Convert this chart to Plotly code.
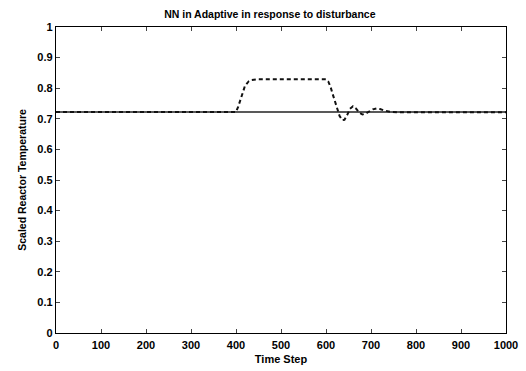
import plotly.graph_objects as go

# Setpoint (solid)
set_t = [0, 1000]
set_y = [0.722, 0.722]

# NN adaptive response (dashed)
resp_t = [0, 400, 405, 410, 415, 420, 428, 435, 445, 600, 605, 610, 615, 620, 625, 630, 636, 641, 647, 653, 660, 667, 674, 681, 688, 696, 704, 712, 720, 730, 742, 760, 1000]
resp_y = [0.722, 0.722, 0.74, 0.765, 0.79, 0.808, 0.822, 0.827, 0.829, 0.829, 0.822, 0.805, 0.78, 0.755, 0.73, 0.71, 0.696, 0.697, 0.712, 0.732, 0.741, 0.733, 0.72, 0.714, 0.717, 0.725, 0.731, 0.734, 0.732, 0.727, 0.723, 0.721, 0.721]

x_ticks = [0, 100, 200, 300, 400, 500, 600, 700, 800, 900, 1000]
y_ticks = [0, 0.1, 0.2, 0.3, 0.4, 0.5, 0.6, 0.7, 0.8, 0.9, 1]
y_ticktext = ["0", "0.1", "0.2", "0.3", "0.4", "0.5", "0.6", "0.7", "0.8", "0.9", "1"]

fig = go.Figure()
fig.add_trace(go.Scatter(x=set_t, y=set_y, mode="lines",
                         line=dict(color="#222222", width=1.4), showlegend=False))
fig.add_trace(go.Scatter(x=resp_t, y=resp_y, mode="lines",
                         line=dict(color="#111111", width=2, dash="4px,3px"), showlegend=False))

fam = "Liberation Sans, Arial, sans-serif"
fig.update_layout(
    width=526, height=371,
    margin=dict(l=56, r=20, t=27, b=38),
    paper_bgcolor="white", plot_bgcolor="white",
    font=dict(family=fam, size=11, color="black", weight="bold"),
    title=dict(text="NN in Adaptive in response to disturbance", x=0.513, xanchor="center",
               y=0.962, yanchor="middle",
               font=dict(size=10.5, color="black", weight="bold")),
)
fig.update_xaxes(range=[0, 1000], tickvals=x_ticks, ticks="inside", ticklen=4,
                 showgrid=False, zeroline=False, showline=True, linecolor="black",
                 linewidth=1.4, mirror="ticks", ticklabelstandoff=2, automargin=False,
                 tickfont=dict(size=11, color="black", weight="bold"),
                 title=dict(text="Time Step", standoff=4,
                            font=dict(size=11, weight="bold")))
fig.update_yaxes(range=[0, 1], tickvals=y_ticks, ticktext=y_ticktext, ticks="inside", ticklen=4,
                 showgrid=False, zeroline=False, showline=True, linecolor="black",
                 linewidth=1.4, mirror="ticks", automargin=False,
                 tickfont=dict(size=11, color="black", weight="bold"),
                 title=dict(text="Scaled Reactor Temperature", standoff=8,
                            font=dict(size=10.5, weight="bold")))

fig.write_html("out.html")
